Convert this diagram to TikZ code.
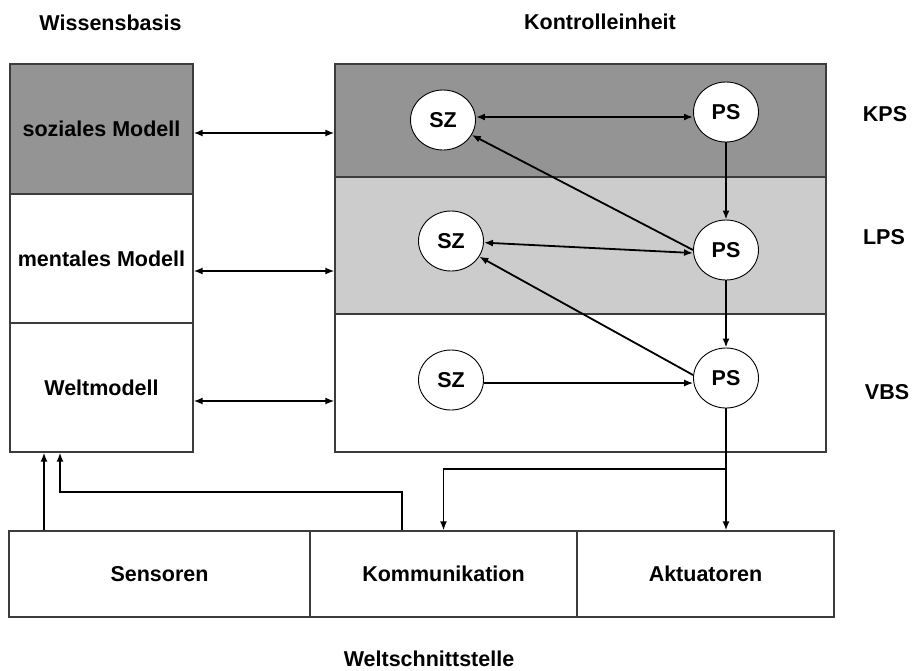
\documentclass[tikz,border=0pt]{standalone}
\usepackage{fontspec}
\setmainfont{Liberation Sans}
\usetikzlibrary{arrows.meta,shapes.geometric,calc}
\definecolor{darkband}{RGB}{148,148,148}
\definecolor{lightband}{RGB}{204,204,204}
\definecolor{edgegray}{RGB}{60,60,60}
\tikzset{
  txt/.style={font=\fontsize{21.5}{25}\selectfont\bfseries, inner sep=0pt},
  cell/.style={draw=edgegray, line width=1.1pt, inner sep=0pt, font=\fontsize{21.5}{25}\selectfont\bfseries},
  band/.style={draw=edgegray, line width=1.1pt, inner sep=0pt},
  knot/.style={ellipse, draw=black, line width=0.9pt, fill=white, minimum width=65pt, minimum height=60pt, inner sep=0pt, font=\fontsize{21.5}{25}\selectfont\bfseries},
  arr/.style={line width=1.8pt, -{Latex[length=9pt,width=7pt]}},
  darr/.style={line width=1.8pt, {Latex[length=9pt,width=7pt]}-{Latex[length=9pt,width=7pt]}},
}
\begin{document}
\begin{tikzpicture}[x=1pt,y=-1pt]
\useasboundingbox (0,0) rectangle (912,670);
% titles
\node[txt] (tWB) at (110.5,22.5) {Wissensbasis};
\node[txt] (tKE) at (600,22) {Kontrolleinheit};
\node[txt] (tKPS) at (885,114.5) {KPS};
\node[txt] (tLPS) at (884,237.5) {LPS};
\node[txt] (tVBS) at (887,392.5) {VBS};
\node[txt] (tWS) at (429,658.5) {Weltschnittstelle};
% knowledge base
\node[cell, fill=darkband, minimum width=183pt, minimum height=130pt] (soz) at (101.5,129) {soziales Modell};
\node[cell, fill=white, minimum width=183pt, minimum height=129pt] (ment) at (101.5,258.5) {mentales Modell};
\node[cell, fill=white, minimum width=183pt, minimum height=129pt] (welt) at (101.5,387.5) {Weltmodell};
% control unit bands
\node[band, fill=darkband, minimum width=491pt, minimum height=113pt] (kps) at (580.5,120.5) {};
\node[band, fill=lightband, minimum width=491pt, minimum height=137pt] (lps) at (580.5,245.5) {};
\node[band, fill=white, minimum width=491pt, minimum height=138pt] (vbs) at (580.5,383) {};
% world interface
\node[cell, fill=white, minimum width=301pt, minimum height=86pt] (sens) at (159.5,574) {\raisebox{-4pt}{Sensoren}};
\node[cell, fill=white, minimum width=267pt, minimum height=86pt] (komm) at (443.5,574) {\raisebox{-5pt}{Kommunikation}};
\node[cell, fill=white, minimum width=257pt, minimum height=86pt] (akt) at (705.5,574) {Aktuatoren};
% circles
\node[knot] (sz1) at (443,120) {SZ};
\node[knot] (ps1) at (726,112) {PS};
\node[knot] (sz2) at (451,241) {SZ};
\node[knot] (ps2) at (726,250) {PS};
\node[knot] (sz3) at (451,380) {SZ};
\node[knot] (ps3) at (726,378) {PS};
% knowledge base <-> control unit
\draw[darr] (soz.east |- 0,133) -- (kps.west |- 0,133);
\draw[darr] (ment.east |- 0,271) -- (lps.west |- 0,271);
\draw[darr] (welt.east |- 0,401) -- (vbs.west |- 0,401);
% control unit arrows
\draw[darr] ([yshift=3pt]sz1.east) -- ([yshift=-5pt]ps1.west);
\draw[arr] (ps1.south) -- (ps2.north);
\draw[arr] (ps2.south) -- (ps3.north);
\draw[arr] (ps2.west) -- (sz1);
\draw[darr] (sz2) -- ([yshift=-3pt]ps2.west);
\draw[arr] ([yshift=3pt]ps3.west) -- (sz2);
\draw[line width=1.3pt, -{Latex[length=9pt,width=7pt]}] ([yshift=-3pt]sz3.east) -- ([yshift=-5pt]ps3.west);
% outputs
\coordinate (junc) at (ps3.south |- 0,469);
\draw[arr] (ps3.south) -- (ps3.south |- akt.north);
\draw[arr] (junc) -| (komm.north);
% inputs
\draw[arr] (sens.north -| 44,0) -- (welt.south -| 44,0);
\draw[arr] (komm.north -| 402,0) |- (60,492) -- (welt.south -| 60,0);
\end{tikzpicture}
\end{document}
